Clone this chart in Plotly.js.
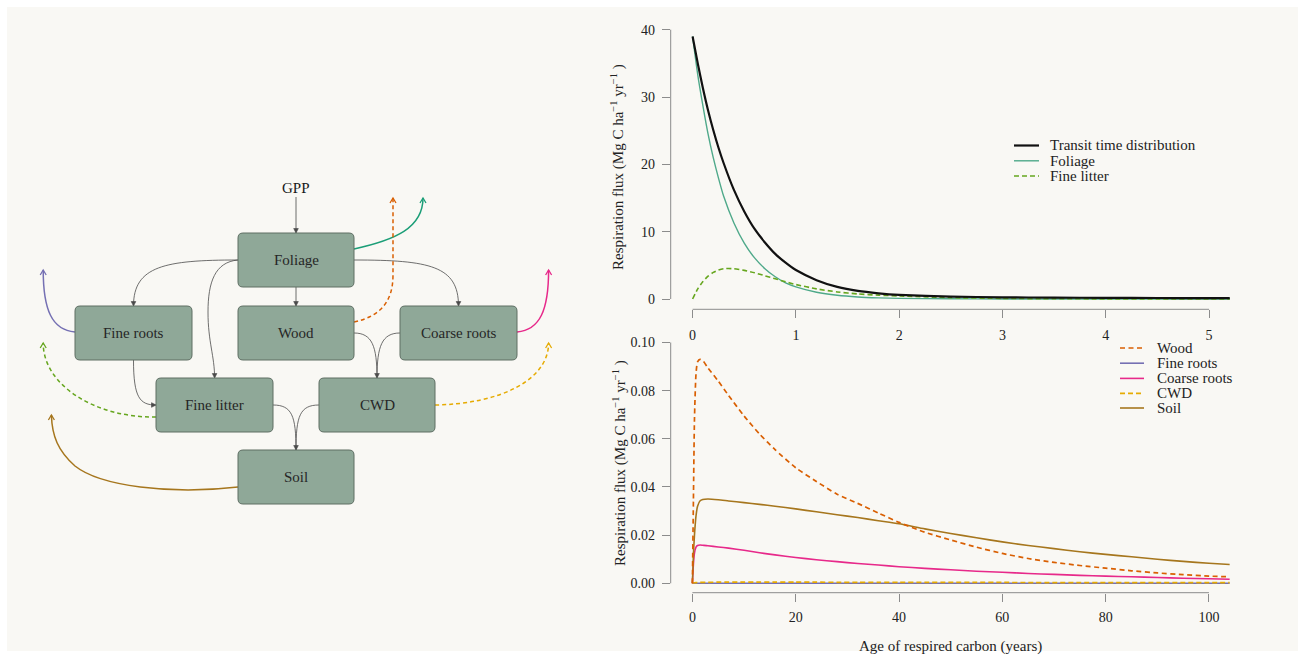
<!DOCTYPE html>
<html><head><meta charset="utf-8">
<script src="https://cdn.plot.ly/plotly-3.0.1.min.js"></script>
<style>html,body{margin:0;padding:0;background:#fff;}#chart{width:1305px;height:657px;}</style>
</head><body><div id="chart"></div>
<script>
// ---------------- data ----------------
const ageTop = [0,0.05,0.1,0.15,0.2,0.25,0.3,0.4,0.5,0.6,0.7,0.8,0.9,1.0,1.2,1.4,1.6,1.8,2.0,2.5,3.0,3.5,4.0,4.5,5.0,5.2];
const transitTime = [39.0,35.0,31.3,28.0,25.1,22.5,20.2,16.2,13.0,10.4,8.4,6.7,5.4,4.3,2.8,1.8,1.2,0.85,0.62,0.36,0.25,0.2,0.17,0.15,0.13,0.13];
const foliage = [39.0,33.3,28.7,24.5,21.0,18.0,15.3,11.3,8.3,6.1,4.5,3.3,2.4,1.8,1.0,0.55,0.3,0.17,0.1,0.03,0.01,0.005,0,0,0,0];
const fineLitter = [0,1.5,2.6,3.4,3.95,4.3,4.5,4.5,4.25,3.9,3.45,3.0,2.55,2.15,1.5,1.05,0.75,0.57,0.45,0.2,0.09,0.04,0.02,0.01,0.01,0.01];

const ageBottom = [0,0.2,0.4,0.7,1,1.5,2,3,5,7,10,13,16,20,24,28,32,36,40,45,50,55,60,65,70,75,80,85,90,95,100,104];
const wood = [0,0.035,0.068,0.087,0.092,0.093,0.0925,0.0895,0.084,0.078,0.0695,0.062,0.0555,0.048,0.0423,0.037,0.0332,0.0292,0.0253,0.0212,0.018,0.015,0.0124,0.0103,0.0087,0.0074,0.0063,0.0052,0.0043,0.0036,0.003,0.0027];
const fineRoots = [0,0,0,0,0,0,0,0,0,0,0,0,0,0,0,0,0,0,0,0,0,0,0,0,0,0,0,0,0,0,0,0];
const coarseRoots = [0,0.008,0.0125,0.015,0.0157,0.0159,0.0158,0.0156,0.0151,0.0146,0.0137,0.0127,0.0118,0.0107,0.0098,0.009,0.0082,0.0076,0.0069,0.0062,0.0056,0.005,0.0046,0.0041,0.0037,0.0033,0.003,0.0027,0.0024,0.0021,0.0019,0.0017];
const cwd = [0,0.0001,0.0002,0.0003,0.0003,0.0004,0.0004,0.0004,0.0005,0.0005,0.0005,0.0005,0.0005,0.0005,0.0005,0.0004,0.0004,0.0004,0.0004,0.0004,0.0004,0.0004,0.0004,0.0003,0.0003,0.0003,0.0003,0.0003,0.0003,0.0003,0.0003,0.0003];
const soil = [0,0.012,0.02,0.028,0.032,0.0343,0.0348,0.035,0.0347,0.0342,0.0335,0.0328,0.032,0.0309,0.0297,0.0285,0.0273,0.026,0.0247,0.0226,0.0207,0.0189,0.0172,0.0157,0.0144,0.0131,0.012,0.011,0.01,0.0091,0.0083,0.0078];

const topXTicks = [0,1,2,3,4,5];
const topYTicks = [0,10,20,30,40];
const botXTicks = [0,20,40,60,80,100];
const botYTicks = [0,0.02,0.04,0.06,0.08,0.10];

const topNames = ['Transit time distribution','Foliage','Fine litter'];
const botNames = ['Wood','Fine roots','Coarse roots','CWD','Soil'];

// ---------------- styling ----------------
const W = 1305, H = 657;
const FONT = 'Liberation Serif, Times New Roman, serif';
const AXC = '#8c8c8c';
const col = {ttd:'#111111', foliage:'#4fa98a', litter:'#66A61E', wood:'#D95F02', froots:'#7570B3', croots:'#E7298A', cwd:'#E6AB02', soil:'#A6761D'};
const px = x => x / W, py = y => 1 - y / H;

const xDom = [670.7 / W, 1250 / W];
const topDom = [py(309.3), py(20)];
const botDom = [py(592.7), py(333)];

function tr(x, y, name, color, width, dash, xa, ya) {
  return {x: x, y: y, name: name, type: 'scatter', mode: 'lines', xaxis: xa, yaxis: ya,
    line: {color: color, width: width, dash: dash || 'solid', shape: 'spline', smoothing: 0.6},
    showlegend: false, hoverinfo: 'x+y+name'};
}
const data = [
  tr(ageTop, foliage, topNames[1], col.foliage, 1.4, null, 'x', 'y'),
  tr(ageTop, fineLitter, topNames[2], col.litter, 1.6, '5px,3px', 'x', 'y'),
  tr(ageTop, transitTime, topNames[0], col.ttd, 2.2, null, 'x', 'y'),
  tr(ageBottom, fineRoots, botNames[1], col.froots, 1.5, null, 'x2', 'y2'),
  tr(ageBottom, cwd, botNames[3], col.cwd, 1.6, '5px,3px', 'x2', 'y2'),
  tr(ageBottom, coarseRoots, botNames[2], col.croots, 1.6, null, 'x2', 'y2'),
  tr(ageBottom, soil, botNames[4], col.soil, 1.6, null, 'x2', 'y2'),
  tr(ageBottom, wood, botNames[0], col.wood, 1.7, '5px,3.5px', 'x2', 'y2')
];

const tickFont = {family: FONT, size: 14, color: '#222'};
const axBase = {showgrid: false, zeroline: false, showline: false, ticks: 'outside', ticklen: 8,
  tickcolor: AXC, tickwidth: 1, tickfont: tickFont, fixedrange: true};

const shapes = [];
const annotations = [];

// panel background
shapes.push({type: 'rect', xref: 'paper', yref: 'paper', x0: px(7), x1: px(1298), y0: py(651), y1: py(7),
  fillcolor: '#f9f8f4', line: {width: 0}, layer: 'below'});

// R-style axis lines
shapes.push({type: 'line', xref: 'x', yref: 'paper', x0: 0, x1: 5, y0: topDom[0], y1: topDom[0], line: {color: AXC, width: 1}});
shapes.push({type: 'line', xref: 'paper', yref: 'y', x0: xDom[0], x1: xDom[0], y0: 0, y1: 40, line: {color: AXC, width: 1}});
shapes.push({type: 'line', xref: 'x2', yref: 'paper', x0: 0, x1: 100, y0: botDom[0], y1: botDom[0], line: {color: AXC, width: 1}});
shapes.push({type: 'line', xref: 'paper', yref: 'y2', x0: xDom[0], x1: xDom[0], y0: 0, y1: 0.10, line: {color: AXC, width: 1}});

// axis titles
const yTitle = 'Respiration flux (Mg C ha<sup>\u22121</sup> yr<sup>\u22121</sup> )';
const titleFont = {family: FONT, size: 15, color: '#222'};
annotations.push({xref: 'paper', yref: 'paper', x: px(618), y: py(167), text: yTitle, textangle: -90, showarrow: false, font: titleFont, xanchor: 'center', yanchor: 'middle'});
annotations.push({xref: 'paper', yref: 'paper', x: px(619), y: py(463), text: yTitle, textangle: -90, showarrow: false, font: titleFont, xanchor: 'center', yanchor: 'middle'});
annotations.push({xref: 'paper', yref: 'paper', x: px(950), y: py(646), text: 'Age of respired carbon (years)', showarrow: false, font: titleFont, xanchor: 'center', yanchor: 'middle'});

// manual legends
function legendRow(x0, x1, xt, y, color, width, dash, label) {
  shapes.push({type: 'line', xref: 'paper', yref: 'paper', x0: px(x0), x1: px(x1), y0: py(y), y1: py(y), line: {color: color, width: width, dash: dash || 'solid'}});
  annotations.push({xref: 'paper', yref: 'paper', x: px(xt), y: py(y), text: label, showarrow: false, xanchor: 'left', yanchor: 'middle', font: titleFont});
}
legendRow(1014, 1039, 1048, 145.5, col.ttd, 2.2, null, topNames[0]);
legendRow(1014, 1039, 1048, 160.8, col.foliage, 1.4, null, topNames[1]);
legendRow(1014, 1039, 1048, 176, col.litter, 1.6, '5px,3px', topNames[2]);
const botLegCols = [col.wood, col.froots, col.croots, col.cwd, col.soil];
const botLegDash = ['5px,3.5px', null, null, '5px,3px', null];
const botLegY = [348, 363.2, 378.4, 393.4, 408];
for (let i = 0; i < 5; i++) legendRow(1120, 1144, 1154.5, botLegY[i], botLegCols[i], 1.6, botLegDash[i], botNames[i]);

// ---------------- flow diagram (pixel space via x3/y3) ----------------
const boxes = [
  ['Foliage', 238, 233, 354, 287],
  ['Fine roots', 75, 306, 192, 360],
  ['Wood', 238, 306, 354, 360],
  ['Coarse roots', 400, 306, 517, 360],
  ['Fine litter', 156, 378, 273, 432],
  ['CWD', 319, 378, 435, 432],
  ['Soil', 238, 450, 354, 504]
];
const D = {xref: 'x3', yref: 'y3'};
function rr(x0, y0, x1, y1, r) {
  return `M${x0 + r},${y0} H${x1 - r} Q${x1},${y0} ${x1},${y0 + r} V${y1 - r} Q${x1},${y1} ${x1 - r},${y1} H${x0 + r} Q${x0},${y1} ${x0},${y1 - r} V${y0 + r} Q${x0},${y0} ${x0 + r},${y0} Z`;
}
const LINK = '#4a4a4a';
function link(path) { shapes.push(Object.assign({type: 'path', path: path, line: {color: LINK, width: 0.8}}, D)); }
function headDown(x, y) { shapes.push(Object.assign({type: 'path', path: `M${x - 2.3},${y - 4.5} L${x},${y} L${x + 2.3},${y - 4.5} Z`, fillcolor: LINK, line: {color: LINK, width: 0.6}}, D)); }
function headRight(x, y) { shapes.push(Object.assign({type: 'path', path: `M${x - 4.5},${y - 2.3} L${x},${y} L${x - 4.5},${y + 2.3} Z`, fillcolor: LINK, line: {color: LINK, width: 0.6}}, D)); }
function resp(path, color, dash, hx, hy) {
  shapes.push(Object.assign({type: 'path', path: path, line: {color: color, width: 1.5, dash: dash || 'solid'}}, D));
  shapes.push(Object.assign({type: 'path', path: `M${hx - 3},${hy + 5} L${hx},${hy} L${hx + 3},${hy + 5}`, line: {color: color, width: 1.3}}, D));
}

// black flows
link('M296,197 L296,233'); headDown(296, 233);
link('M296,287 L296,306'); headDown(296, 306);
link('M238,260 C165,260 133.5,266 133.5,306'); headDown(133.5, 306);
link('M238,260 C215,262 208,282 208,312 C208,342 214.6,356 214.6,378'); headDown(214.6, 378);
link('M354,260 C430,260 458.5,266 458.5,306'); headDown(458.5, 306);
link('M354,333 C372,333 377,346 377,378'); headDown(377, 378);
link('M400,333 C382,333 377,346 377,378');
link('M133.5,360 C133.5,398 140,405 156,405'); headRight(156, 405);
link('M273,405 C292,405 296,416 296,450'); headDown(296, 450);
link('M319,405 C300,405 296,416 296,450');

// respiration arrows
resp('M354,249 C395,240 423,228 423,198', '#1B9E77', null, 423, 198);
resp('M354,322 C382,316 393,300 393,275 L393,198', col.wood, '4px,3px', 393, 198);
resp('M75,332 C52,330 43.2,310 43.2,270', col.froots, null, 43.2, 270);
resp('M517,332 C540,330 548.6,310 548.6,270', col.croots, null, 548.6, 270);
resp('M156,417 C95,418 43.2,385 43.2,343', col.litter, '4px,3px', 43.2, 343);
resp('M435,405 C500,404 548.6,380 548.6,343', col.cwd, '4px,3px', 548.6, 343);
resp('M238,487 C170,495 100,486 75,466 C58,451 52,436 51.4,415', col.soil, null, 51.4, 415);

// boxes + labels
boxes.forEach(b => {
  shapes.push(Object.assign({type: 'path', path: rr(b[1], b[2], b[3], b[4], 5), fillcolor: '#8fa898', line: {color: '#5e6e63', width: 1}}, D));
  annotations.push(Object.assign({x: (b[1] + b[3]) / 2, y: (b[2] + b[4]) / 2, text: b[0], showarrow: false,
    font: {family: FONT, size: 15, color: '#262626'}, xanchor: 'center', yanchor: 'middle'}, D));
});
annotations.push(Object.assign({x: 296, y: 188, text: 'GPP', showarrow: false, font: {family: FONT, size: 15, color: '#1a1a1a'}, xanchor: 'center', yanchor: 'middle'}, D));

const layout = {
  width: W, height: H, margin: {l: 0, r: 0, t: 0, b: 0, pad: 0},
  paper_bgcolor: '#ffffff', plot_bgcolor: 'rgba(0,0,0,0)', showlegend: false,
  font: {family: FONT, color: '#222'},
  xaxis: Object.assign({}, axBase, {domain: xDom, range: [-0.212, 5.396], tickvals: topXTicks, ticktext: topXTicks.map(String), anchor: 'y', ticklabelstandoff: 5}),
  yaxis: Object.assign({}, axBase, {domain: topDom, range: [-1.53, 41.44], tickvals: topYTicks, ticktext: topYTicks.map(String), anchor: 'x', ticklabelstandoff: 4}),
  xaxis2: Object.assign({}, axBase, {domain: xDom, range: [-4.2, 107.94], tickvals: botXTicks, ticktext: botXTicks.map(String), anchor: 'y2', ticklabelstandoff: 3}),
  yaxis2: Object.assign({}, axBase, {domain: botDom, range: [-0.0039, 0.10395], tickvals: botYTicks, ticktext: botYTicks.map(v => v.toFixed(2)), anchor: 'x2', ticklabelstandoff: 4}),
  xaxis3: {domain: [0, 600 / W], range: [0, 600], visible: false, fixedrange: true, anchor: 'y3'},
  yaxis3: {domain: [0, 1], range: [H, 0], visible: false, fixedrange: true, anchor: 'x3'},
  shapes: shapes, annotations: annotations
};
// an invisible trace so the diagram subplot exists
data.push({x: [0], y: [0], xaxis: 'x3', yaxis: 'y3', type: 'scatter', mode: 'markers', marker: {opacity: 0}, hoverinfo: 'skip', showlegend: false});

Plotly.newPlot('chart', data, layout, {displayModeBar: false, staticPlot: true});
</script>
</body></html>
